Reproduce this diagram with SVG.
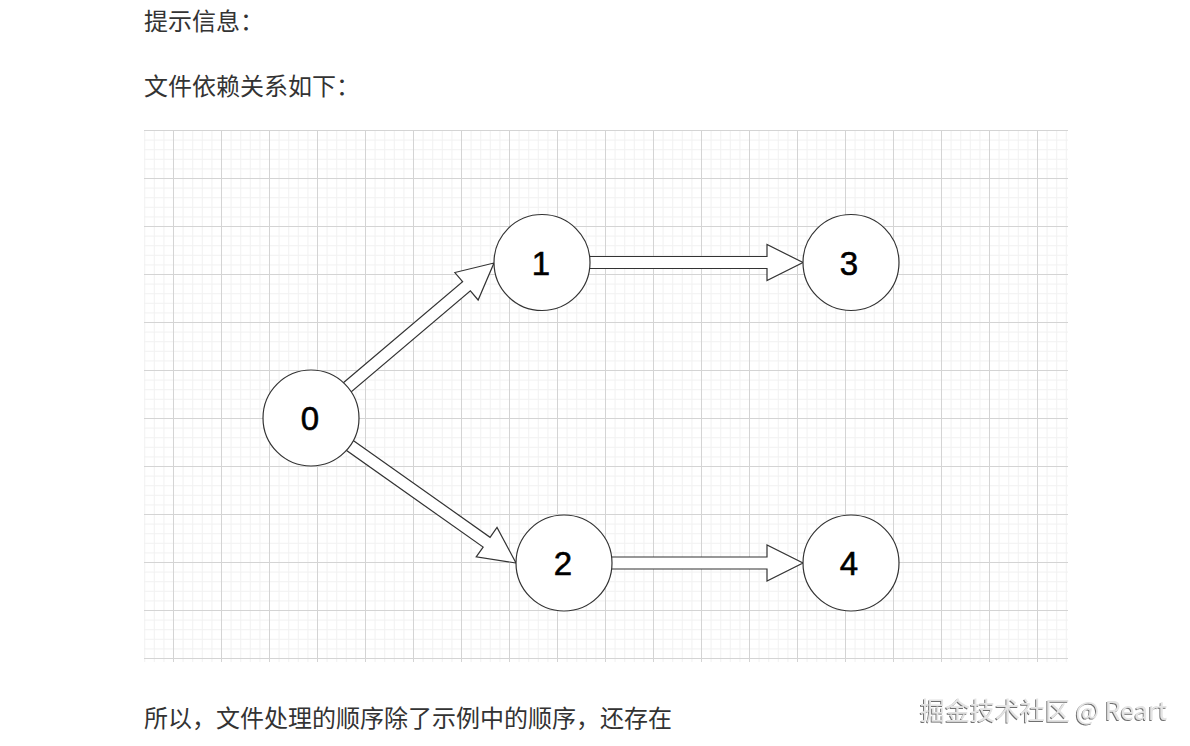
<svg xmlns="http://www.w3.org/2000/svg" width="1190" height="746" viewBox="0 0 1190 746">
  <defs>
    <style>
      .para { font-family: "Noto Sans CJK SC", "Liberation Sans", sans-serif; font-size: 24px; fill: #333333; }
      .node circle { fill: #ffffff; stroke: #333333; stroke-width: 1.2; }
      .node text { font-family: "Liberation Sans", Arial, sans-serif; font-size: 33px; fill: #000000; stroke: #000000; stroke-width: 0.6; text-anchor: middle; }
      .arrow { fill: #ffffff; stroke: #333333; stroke-width: 1.2; stroke-linejoin: miter; }
      .wm { font-family: "Noto Sans CJK SC", "Liberation Sans", sans-serif; font-size: 25px; fill: #e4e4e4; filter: url(#emboss); }
    </style>
    <pattern id="gridTile" patternUnits="userSpaceOnUse" x="125" y="130" width="48" height="48">
      <rect x="0" y="0" width="48" height="48" fill="#ffffff"/>
      <rect x="9.6" y="0" width="1" height="48" fill="#f2f2f2"/>
      <rect x="19.2" y="0" width="1" height="48" fill="#f2f2f2"/>
      <rect x="28.8" y="0" width="1" height="48" fill="#f2f2f2"/>
      <rect x="38.4" y="0" width="1" height="48" fill="#f2f2f2"/>
      <rect x="0" y="9.6" width="48" height="1" fill="#f2f2f2"/>
      <rect x="0" y="19.2" width="48" height="1" fill="#f2f2f2"/>
      <rect x="0" y="28.8" width="48" height="1" fill="#f2f2f2"/>
      <rect x="0" y="38.4" width="48" height="1" fill="#f2f2f2"/>
      <rect x="0" y="0" width="1" height="48" fill="#d4d4d4"/>
      <rect x="0" y="0" width="48" height="1" fill="#d4d4d4"/>
    </pattern>
    <filter id="emboss" x="-5%" y="-20%" width="110%" height="140%">
      <feDropShadow dx="-1" dy="1" stdDeviation="0.6" flood-color="#555555" flood-opacity="0.85"/>
    </filter>
  </defs>

  <rect x="0" y="0" width="1190" height="746" fill="#ffffff"/>

  <g id="text-top">
    <text class="para" x="144" y="30">提示信息：</text>
    <text class="para" x="144" y="95">文件依赖关系如下：</text>
  </g>

  <g id="grid">
    <rect x="144" y="130" width="924" height="532" fill="url(#gridTile)"/>
  </g>

  <g id="connectors">
    <path id="edge-0-1" class="arrow" transform="translate(311,418) rotate(-40.27)" d="M44,-6 H203.8 V-18 L239.8,0 L203.8,18 V6 H44 Z"/>
    <path id="edge-0-2" class="arrow" transform="translate(311,418) rotate(35.27)" d="M44,-6 H215.1 V-18 L251.1,0 L215.1,18 V6 H44 Z"/>
    <path id="edge-1-3" class="arrow" transform="translate(542,262.5)" d="M44,-6 H225 V-18 L261,0 L225,18 V6 H44 Z"/>
    <path id="edge-2-4" class="arrow" transform="translate(564,563)" d="M44,-6 H203 V-18 L239,0 L203,18 V6 H44 Z"/>
  </g>

  <g id="node-0" class="node">
    <circle cx="311" cy="418" r="48"/>
    <text x="310" y="430">0</text>
  </g>
  <g id="node-1" class="node">
    <circle cx="542" cy="262.5" r="48"/>
    <text x="541" y="274.5">1</text>
  </g>
  <g id="node-3" class="node">
    <circle cx="851" cy="262.5" r="48"/>
    <text x="849" y="274.5">3</text>
  </g>
  <g id="node-2" class="node">
    <circle cx="564" cy="563" r="48"/>
    <text x="563" y="575">2</text>
  </g>
  <g id="node-4" class="node">
    <circle cx="851" cy="563" r="48"/>
    <text x="849" y="575">4</text>
  </g>

  <g id="text-bottom">
    <text class="para" x="144" y="727">所以，文件处理的顺序除了示例中的顺序，还存在</text>
  </g>

  <g id="watermark">
    <text class="wm" x="920" y="720">掘金技术社区 @ Reart</text>
  </g>
</svg>
